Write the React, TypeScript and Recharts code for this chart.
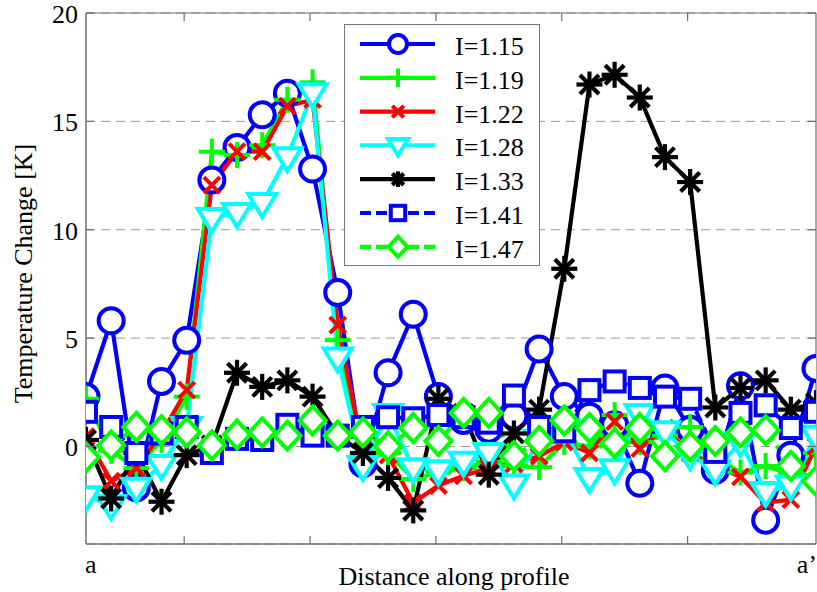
import { LineChart, Line, XAxis, YAxis, CartesianGrid, Legend } from 'recharts';

// sample index along the profile a -> a'
const dist = [0, 1, 2, 3, 4, 5, 6, 7, 8, 9, 10, 11, 12, 13, 14, 15, 16, 17, 18, 19, 20, 21, 22, 23, 24, 25, 26, 27, 28, 29];
const xTicks = [0, 3.9, 8.9, 13.9, 18.9, 23.9, 29];
const xEndLabels = ['a', 'a\u2019'];
const yTicks = [0, 5, 10, 15, 20];

// temperature change [K] per intensity
const i115 = [2.3, 5.8, -1.9, 3.0, 4.9, 12.3, 13.8, 15.3, 16.3, 12.8, 7.1, -0.8, 3.4, 6.1, 2.3, 1.2, 0.8, 1.4, 4.5, 2.3, 1.4, 1.0, -1.7, 2.7, 0.8, -1.1, 2.8, -3.4, -0.4, 3.6];
const i119 = [2.2, -0.2, -1.0, 0.3, 2.3, 13.6, 13.45, 13.9, 16.0, 16.8, 4.9, -0.6, -0.3, -1.5, -1.2, -1.0, -0.7, -0.9, -0.95, 0.2, 0.0, 1.45, 0.2, 0.5, 0.9, -0.5, -1.2, -0.9, -1.3, -0.3];
const i122 = [0.45, -1.6, -1.0, 0.6, 2.6, 12.06, 13.6, 13.6, 15.7, 16.0, 5.6, -0.2, -0.4, -2.6, -1.8, -1.35, -1.0, -0.8, -0.45, 0.2, -0.3, 1.15, -0.1, 0.85, -0.3, -0.9, -1.4, -2.6, -2.45, 0.0];
const i128 = [-2.3, -2.7, -1.9, -0.85, 0.9, 10.54, 10.77, 11.23, 13.35, 16.3, 4.1, -0.9, 1.5, -1.0, -1.1, -0.7, -0.3, -1.75, 0.3, 0.8, -1.45, -1.05, 1.5, 0.7, -0.4, -1.1, 0.2, -2.1, -1.8, 0.5];
const i133 = [0.3, -2.4, -0.3, -2.55, -0.4, 0.05, 3.4, 2.75, 3.05, 2.3, 0.5, -0.3, -1.45, -2.95, 2.2, 1.5, -1.3, 0.6, 1.7, 8.2, 16.7, 17.15, 16.1, 13.35, 12.2, 1.8, 2.7, 3.05, 1.7, 2.0];
const i141 = [1.6, 0.9, -0.3, 0.6, 0.9, -0.3, 0.35, 0.3, 1.0, 0.5, 0.5, 0.9, 1.35, 1.3, 1.45, 1.35, 1.1, 2.35, 0.9, 0.7, 2.6, 3.0, 2.7, 2.3, 2.2, -0.25, 1.55, 1.9, 0.85, 1.6];
const i147 = [-0.5, 0.05, 0.9, 0.75, 0.65, 0.05, 0.55, 0.65, 0.5, 1.2, 0.5, 0.65, 0.0, 0.85, 0.25, 1.55, 1.55, -0.45, 0.25, 1.2, 0.85, 0.15, 0.85, -0.45, 0.0, 0.25, 0.65, 0.75, -0.9, -1.6];

type MarkerKind = 'circle' | 'plus' | 'cross' | 'triangle' | 'star' | 'square' | 'diamond';

interface SeriesDef {
  key: string;
  name: string;
  values: number[];
  color: string;
  marker: MarkerKind;
  dashed: boolean;
}

const series: SeriesDef[] = [
  { key: 'i115', name: 'I=1.15', values: i115, color: '#0000ff', marker: 'circle', dashed: false },
  { key: 'i119', name: 'I=1.19', values: i119, color: '#00ff00', marker: 'plus', dashed: false },
  { key: 'i122', name: 'I=1.22', values: i122, color: '#ff0000', marker: 'cross', dashed: false },
  { key: 'i128', name: 'I=1.28', values: i128, color: '#00ffff', marker: 'triangle', dashed: false },
  { key: 'i133', name: 'I=1.33', values: i133, color: '#000000', marker: 'star', dashed: false },
  { key: 'i141', name: 'I=1.41', values: i141, color: '#0000ff', marker: 'square', dashed: true },
  { key: 'i147', name: 'I=1.47', values: i147, color: '#00ff00', marker: 'diamond', dashed: true },
];

const data = dist.map((d, i) => {
  const row: Record<string, number> = { d };
  series.forEach((s) => {
    row[s.key] = s.values[i];
  });
  return row;
});

const FONT = '"Liberation Serif", "Times New Roman", serif';
const AXIS = '#6f6f6f';
const LW = 4.2;
const DASH = '12 6';

function Marker({ kind, cx, cy, color, s = 1 }: { kind: MarkerKind; cx: number; cy: number; color: string; s?: number }) {
  const sw = 4;
  switch (kind) {
    case 'circle':
      return <circle cx={cx} cy={cy} r={12.5 * s} fill="#fff" stroke={color} strokeWidth={sw} />;
    case 'square': {
      const h = 10 * s;
      return <rect x={cx - h} y={cy - h} width={2 * h} height={2 * h} fill="#fff" stroke={color} strokeWidth={sw} />;
    }
    case 'diamond': {
      const w = 13 * s;
      const h = 14 * s;
      return (
        <polygon
          points={`${cx},${cy - h} ${cx + w},${cy} ${cx},${cy + h} ${cx - w},${cy}`}
          fill="#fff"
          stroke={color}
          strokeWidth={sw}
        />
      );
    }
    case 'triangle': {
      const w = 14 * s;
      return (
        <polygon
          points={`${cx - w},${cy - 9 * s} ${cx + w},${cy - 9 * s} ${cx},${cy + 14 * s}`}
          fill="#fff"
          stroke={color}
          strokeWidth={sw}
        />
      );
    }
    case 'plus': {
      const a = 13 * s;
      return (
        <g stroke={color} strokeWidth={sw}>
          <line x1={cx - a} x2={cx + a} y1={cy} y2={cy} />
          <line x1={cx} x2={cx} y1={cy - a} y2={cy + a} />
        </g>
      );
    }
    case 'cross': {
      const a = 8 * s;
      return (
        <g stroke={color} strokeWidth={sw}>
          <line x1={cx - a} x2={cx + a} y1={cy - a} y2={cy + a} />
          <line x1={cx - a} x2={cx + a} y1={cy + a} y2={cy - a} />
        </g>
      );
    }
    case 'star': {
      const a = 13 * s;
      const b = 9.5 * s;
      return (
        <g stroke={color} strokeWidth={4.2}>
          <line x1={cx - a} x2={cx + a} y1={cy} y2={cy} />
          <line x1={cx} x2={cx} y1={cy - a} y2={cy + a} />
          <line x1={cx - b} x2={cx + b} y1={cy - b} y2={cy + b} />
          <line x1={cx - b} x2={cx + b} y1={cy + b} y2={cy - b} />
        </g>
      );
    }
  }
  return null;
}

const XTickBottom = (props: any) => {
  const { x, y, payload } = props;
  const v = payload.value;
  if (v === dist[0]) {
    return (
      <text x={x - 1} y={y + 29} textAnchor="start" fontSize={26} fontFamily={FONT} fill="#000">
        {xEndLabels[0]}
      </text>
    );
  }
  if (v === dist[dist.length - 1]) {
    return (
      <text x={x + 1} y={y + 29} textAnchor="end" fontSize={26} fontFamily={FONT} fill="#000">
        {xEndLabels[1]}
      </text>
    );
  }
  return <line x1={x} x2={x} y1={y} y2={y - 8} stroke={AXIS} strokeWidth={1.2} />;
};

const XTickTop = (props: any) => {
  const { x, y, payload } = props;
  if (payload.value === dist[0] || payload.value === dist[dist.length - 1]) return <g />;
  return <line x1={x} x2={x} y1={y} y2={y + 8} stroke={AXIS} strokeWidth={1.2} />;
};

const YTickLeft = (props: any) => {
  const { x, y, payload } = props;
  return (
    <g>
      <line x1={x} x2={x + 8} y1={y} y2={y} stroke={AXIS} strokeWidth={1.2} />
      <text x={x - 8} y={y + 10} textAnchor="end" fontSize={26} fontFamily={FONT} fill="#000">
        {payload.value}
      </text>
    </g>
  );
};

const YTickRight = (props: any) => {
  const { x, y } = props;
  return <line x1={x} x2={x - 8} y1={y} y2={y} stroke={AXIS} strokeWidth={1.2} />;
};

function LegendBox() {
  const w = 196;
  const h = 242;
  return (
    <div style={{ width: w, height: h, border: '1px solid #777', background: '#fff', boxSizing: 'border-box' }}>
      <svg width={w - 2} height={h - 2} style={{ display: 'block' }}>
        {series.map((s, i) => {
          const y = 19 + i * 33.8;
          return (
            <g key={s.key}>
              <line x1={15} x2={90} y1={y} y2={y} stroke={s.color} strokeWidth={LW} strokeDasharray={s.dashed ? '11 5' : undefined} />
              <Marker kind={s.marker} cx={53} cy={y} color={s.color} s={s.marker === 'star' ? 0.6 : 0.72} />
              <text x={110} y={y + 11} fontSize={26} fontFamily={FONT} fill="#000">
                {s.name}
              </text>
            </g>
          );
        })}
      </svg>
    </div>
  );
}

export default function App() {
  return (
    <div style={{ position: 'absolute', left: 0, top: 0, width: 817, height: 592, background: '#fff' }}>
      <LineChart width={817} height={592} data={data} margin={{ top: 12, right: 0, bottom: 0, left: 0 }}>
        <CartesianGrid vertical={false} stroke="#9a9a9a" strokeDasharray="9 6" strokeWidth={1} />
        <XAxis
          dataKey="d"
          type="number"
          domain={[dist[0], dist[dist.length - 1]]}
          ticks={xTicks}
          interval={0}
          allowDataOverflow
          height={48}
          tickSize={0}
          tickMargin={0}
          tickLine={false}
          axisLine={{ stroke: AXIS, strokeWidth: 1.5 }}
          tick={XTickBottom}
          label={{
            content: (p: any) => {
              const vb = p.viewBox || { x: 86, y: 544, width: 730, height: 48 };
              return (
                <text x={vb.x + vb.width / 2 + 3} y={585} textAnchor="middle" fontSize={26} fontFamily={FONT} fill="#000">
                  Distance along profile
                </text>
              );
            },
          }}
        />
        <XAxis
          xAxisId="top"
          orientation="top"
          type="number"
          domain={[dist[0], dist[dist.length - 1]]}
          ticks={xTicks}
          interval={0}
          allowDataOverflow
          height={1}
          tickSize={0}
          tickMargin={0}
          tickLine={false}
          axisLine={{ stroke: AXIS, strokeWidth: 1.2 }}
          tick={XTickTop}
        />
        <YAxis
          type="number"
          domain={[-4.5, 20]}
          ticks={yTicks}
          interval={0}
          allowDataOverflow
          width={86}
          tickSize={0}
          tickMargin={0}
          tickLine={false}
          axisLine={{ stroke: AXIS, strokeWidth: 1.5 }}
          tick={YTickLeft}
          label={{
            content: (p: any) => {
              const vb = p.viewBox || { x: 0, y: 13, width: 86, height: 531 };
              const cy = vb.y + vb.height / 2 - 5;
              return (
                <text
                  x={32}
                  y={cy}
                  transform={`rotate(-90, 32, ${cy})`}
                  textAnchor="middle"
                  fontSize={26}
                  fontFamily={FONT}
                  fill="#000"
                >
                  Temperature Change [K]
                </text>
              );
            },
          }}
        />
        <YAxis
          yAxisId="right"
          orientation="right"
          type="number"
          domain={[-4.5, 20]}
          ticks={yTicks}
          interval={0}
          allowDataOverflow
          width={1}
          tickSize={0}
          tickMargin={0}
          tickLine={false}
          axisLine={{ stroke: AXIS, strokeWidth: 1.2 }}
          tick={YTickRight}
        />
        <Legend
          layout="vertical"
          align="center"
          verticalAlign="middle"
          content={() => <LegendBox />}
          wrapperStyle={{ position: 'absolute', left: 344, top: 24, width: 196, height: 242 }}
        />
        {series.map((s) => (
          <Line
            key={s.key}
            type="linear"
            dataKey={s.key}
            name={s.name}
            stroke={s.color}
            strokeWidth={LW}
            strokeDasharray={s.dashed ? DASH : undefined}
            dot={(p: any) => <Marker key={`${s.key}-${p.index}`} kind={s.marker} cx={p.cx} cy={p.cy} color={s.color} />}
            activeDot={false}
            isAnimationActive={false}
          />
        ))}
      </LineChart>
    </div>
  );
}
